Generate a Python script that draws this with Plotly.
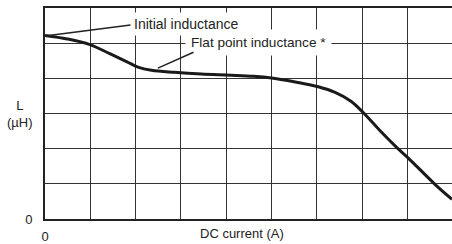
import plotly.graph_objects as go

# Data (x: DC current in grid units, y: L in grid units)
current = [0.0, 0.49, 0.99, 1.43, 1.81, 2.05, 2.35, 2.85, 3.45, 4.10, 4.60, 5.00,
           5.55, 6.03, 6.40, 6.75, 7.02, 7.40, 7.77, 8.01, 8.61, 8.98]
inductance = [5.22, 5.12, 4.96, 4.70, 4.47, 4.32, 4.23, 4.17, 4.12, 4.09, 4.06, 4.01,
              3.89, 3.76, 3.60, 3.35, 3.03, 2.50, 2.02, 1.74, 0.98, 0.56]

x_ticks = list(range(0, 10))
x_ticktext = ["0"] + [""] * 9
y_ticks = list(range(0, 7))
y_ticktext = ["0"] + [""] * 6

FONT = "Liberation Sans, Arial, sans-serif"
INK = "#222222"
GRID = "#333333"

fig = go.Figure()
fig.add_trace(go.Scatter(
    x=current, y=inductance, mode="lines",
    line=dict(color="#1a1a1a", width=3, shape="spline", smoothing=1.0),
    hoverinfo="skip", showlegend=False,
))

fig.update_layout(
    width=452, height=244,
    margin=dict(l=45, r=0, t=8, b=22),
    paper_bgcolor="white", plot_bgcolor="white",
    font=dict(family=FONT, size=13, color=INK),
    xaxis=dict(range=[0, 8.98], tickvals=x_ticks, ticktext=x_ticktext,
               showgrid=True, gridcolor=GRID, gridwidth=1.3,
               showline=True, linecolor=INK, linewidth=2, mirror=True,
               zeroline=False, ticks="", ticklabelstandoff=4,
               tickfont=dict(size=13, color=INK, family=FONT), fixedrange=True),
    yaxis=dict(range=[0, 6], tickvals=y_ticks, ticktext=y_ticktext,
               showgrid=True, gridcolor=GRID, gridwidth=1.3,
               showline=True, linecolor=INK, linewidth=2,
               zeroline=False, ticks="", ticklabelstandoff=8,
               tickfont=dict(size=13, color=INK, family=FONT), fixedrange=True),
)

# text labels with white boxes
fig.add_annotation(x=1.88, y=5.55, xref="x", yref="y", text="Initial inductance",
                   showarrow=False, xanchor="left", yanchor="middle",
                   bgcolor="white", borderpad=3,
                   font=dict(size=14, color=INK, family=FONT))
fig.add_annotation(x=3.09, y=5.01, xref="x", yref="y", text="Flat point inductance *",
                   showarrow=False, xanchor="left", yanchor="middle",
                   bgcolor="white", borderpad=5,
                   font=dict(size=13.6, color=INK, family=FONT))
# leader lines
fig.add_annotation(x=0.04, y=5.21, ax=1.92, ay=5.52, xref="x", yref="y",
                   axref="x", ayref="y", text="", showarrow=True, arrowhead=0,
                   arrowwidth=1.5, arrowcolor=INK)
fig.add_annotation(x=2.49, y=4.29, ax=3.31, ay=4.76, xref="x", yref="y",
                   axref="x", ayref="y", text="", showarrow=True, arrowhead=0,
                   arrowwidth=1.5, arrowcolor=INK)
# axis titles
fig.add_annotation(x=0.484, y=-0.07, xref="paper", yref="paper", text="DC current (A)",
                   showarrow=False, xanchor="center", yanchor="middle",
                   font=dict(size=13, color=INK, family=FONT))
fig.add_annotation(x=-0.061, y=0.5, xref="paper", yref="paper", text="L<br>(µH)",
                   showarrow=False, xanchor="center", yanchor="middle",
                   font=dict(size=13, color=INK, family=FONT))

fig.write_html("out.html", config={"displayModeBar": False},
               post_script="document.body.style.margin='0';document.body.style.overflow='hidden';")
